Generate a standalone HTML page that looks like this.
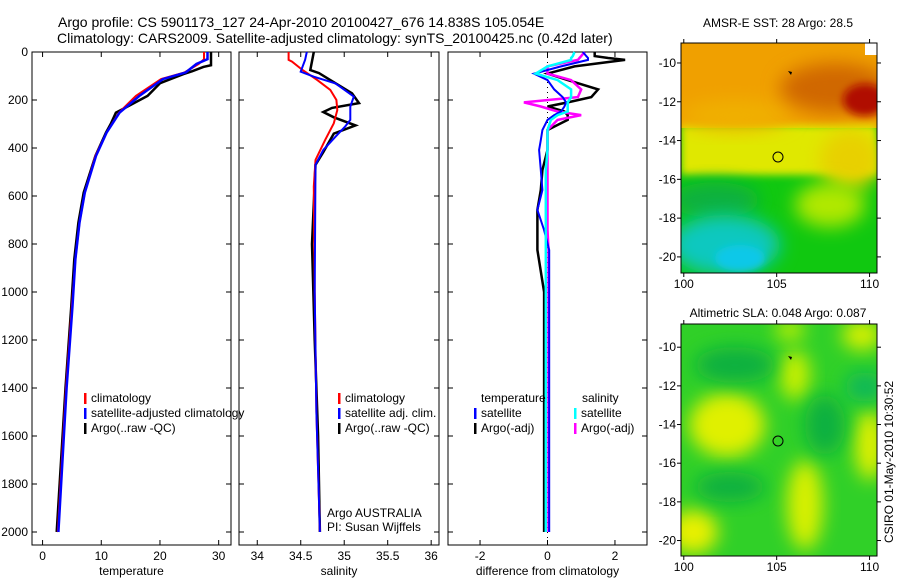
<!DOCTYPE html>
<html><head><meta charset="utf-8"><style>
html,body{margin:0;padding:0;background:#fff;}
svg{display:block;font-family:"Liberation Sans",sans-serif;}
</style></head><body>
<svg id="fig" width="900" height="580" viewBox="0 0 900 580" xmlns="http://www.w3.org/2000/svg">
<defs>
<filter id="blur8" x="-50%" y="-50%" width="200%" height="200%"><feGaussianBlur stdDeviation="9"/></filter>
<filter id="blur4" x="-50%" y="-50%" width="200%" height="200%"><feGaussianBlur stdDeviation="4"/></filter>
<clipPath id="clipSST"><rect x="681" y="43" width="196" height="230"/></clipPath>
<clipPath id="clipSLA"><rect x="681" y="324" width="196" height="232"/></clipPath>
</defs>
<text x="58" y="27" font-size="14">Argo profile: CS 5901173_127 24-Apr-2010 20100427_676 14.838S 105.054E</text>
<text x="57" y="43" font-size="14">Climatology: CARS2009. Satellite-adjusted climatology: synTS_20100425.nc (0.42d later)</text>
<g id="panels"></g>

<!-- SST map -->
<g clip-path="url(#clipSST)">
<rect x="681" y="43" width="196" height="230" fill="#10c810"/>
<rect x="681" y="43" width="196" height="85" fill="#f0a000"/>
<rect x="681" y="125" width="196" height="50" fill="#e0e800" filter="url(#blur4)"/>
<ellipse cx="735" cy="115" rx="55" ry="15" fill="#f0b000" filter="url(#blur8)"/>
<ellipse cx="850" cy="160" rx="30" ry="30" fill="#e8d000" filter="url(#blur8)"/>
<ellipse cx="830" cy="205" rx="35" ry="22" fill="#b0e800" filter="url(#blur8)"/>
<ellipse cx="835" cy="88" rx="55" ry="25" fill="#d06800" filter="url(#blur8)"/>
<ellipse cx="865" cy="100" rx="22" ry="16" fill="#b00800" filter="url(#blur4)"/>
<ellipse cx="715" cy="200" rx="45" ry="18" fill="#08b040" filter="url(#blur8)"/>
<ellipse cx="725" cy="245" rx="55" ry="30" fill="#10c8c0" filter="url(#blur8)"/>
<ellipse cx="740" cy="258" rx="25" ry="13" fill="#10c8e8" filter="url(#blur4)"/>
<rect x="865" y="43" width="12" height="12" fill="#fff"/>
</g>
<rect x="681" y="43" width="196" height="230" fill="none" stroke="#000"/>
<circle cx="778" cy="157" r="5" fill="none" stroke="#000"/>
<path d="M788,71 l4,1 l-1,3 z" fill="#000"/>
<text x="778" y="27" font-size="12" text-anchor="middle">AMSR-E SST: 28 Argo: 28.5</text>

<!-- SLA map -->
<g clip-path="url(#clipSLA)">
<rect x="681" y="324" width="196" height="232" fill="#30d028"/>
<ellipse cx="727" cy="425" rx="38" ry="32" fill="#e0f000" filter="url(#blur8)"/>
<ellipse cx="693" cy="532" rx="25" ry="22" fill="#e8f000" filter="url(#blur8)"/>
<ellipse cx="805" cy="505" rx="18" ry="45" fill="#d8f000" filter="url(#blur8)"/>
<ellipse cx="870" cy="445" rx="15" ry="35" fill="#e0f000" filter="url(#blur8)"/>
<ellipse cx="862" cy="335" rx="20" ry="15" fill="#d8f000" filter="url(#blur8)"/>
<ellipse cx="795" cy="375" rx="15" ry="25" fill="#c8f000" filter="url(#blur8)"/>
<ellipse cx="790" cy="330" rx="15" ry="10" fill="#c0f000" filter="url(#blur8)"/>
<ellipse cx="735" cy="365" rx="40" ry="18" fill="#10b040" filter="url(#blur8)"/>
<ellipse cx="825" cy="425" rx="20" ry="30" fill="#10b040" filter="url(#blur8)"/>
<ellipse cx="865" cy="387" rx="20" ry="15" fill="#10b858" filter="url(#blur8)"/>
<ellipse cx="730" cy="487" rx="35" ry="15" fill="#10b040" filter="url(#blur8)"/>
</g>
<rect x="681" y="324" width="196" height="232" fill="none" stroke="#000"/>
<circle cx="778" cy="441" r="5" fill="none" stroke="#000"/>
<path d="M788,356 l4,1 l-1,3 z" fill="#000"/>
<text x="778" y="317" font-size="12" text-anchor="middle">Altimetric SLA: 0.048 Argo: 0.087</text>
<g id="mapaxes"></g>
<text transform="translate(893,462) rotate(-90)" font-size="12" text-anchor="middle">CSIRO 01-May-2010 10:30:52</text>
</svg>
<script>
// ---- temperature panel data ----
const tDepthClim = [0,30,50,85,113,183,253,336,433,586,711,863,1058,1400,2000];
const tClim      = [27.5,27.5,26.6,24.2,20.2,15.9,13.0,10.9,9.0,7.2,6.3,5.6,5.0,4.0,2.6];
const tSat       = [28.1,28.1,26.2,24.4,20.5,16.5,13.1,10.9,9.1,7.2,6.3,5.6,5.1,4.1,2.7];
const tDepthArgo = [0,55,62,80,92,130,183,253,300,336,433,586,711,863,1058,1400,2000];
const tArgo      = [28.7,28.7,27.4,25.5,24.0,20.0,17.9,12.5,11.6,10.8,9.0,7.0,6.1,5.4,4.9,3.9,2.4];
// ---- salinity panel data ----
const sDepthClim = [0,33,40,75,117,158,200,242,297,367,450,561,1000,1500,2000];
const sClim      = [34.36,34.36,34.40,34.52,34.69,34.84,34.91,34.92,34.88,34.78,34.67,34.65,34.66,34.68,34.72];
const sDepthArgo = [0,75,88,117,172,213,233,250,272,306,340,417,470,800,1200,1600,2000];
const sArgo      = [34.65,34.61,34.71,34.84,35.09,35.17,34.86,34.76,34.88,35.13,34.88,34.76,34.67,34.63,34.66,34.70,34.72];
const sDepthSat  = [0,33,82,103,131,186,228,283,311,353,408,470,1000,1500,2000];
const sSat       = [34.57,34.55,34.50,34.65,34.90,35.11,35.07,35.07,35.01,34.90,34.76,34.67,34.66,34.68,34.72];
// ---- difference panel data ----
const dDepth   = [0,17,25,33,60,90,117,156,188,210,227,248,263,283,325,367,408,492,575,658,742,825,1000,1200,2000];
const dTArgo   = [1.4,1.4,1.8,2.3,0.8,0.0,0.6,1.5,1.3,0.6,0.0,0.5,0.6,0.6,0.0,0.0,0.0,-0.15,-0.2,-0.3,-0.3,-0.3,-0.1,-0.1,-0.1];
const dTSat    = [1.05,1.15,1.2,1.2,0.4,-0.4,0.0,0.2,0.45,0.55,0.5,0.4,0.2,0.0,-0.15,-0.2,-0.25,-0.2,-0.15,-0.3,-0.1,0.05,0.05,0.05,0.05];
const dSSat    = [0.8,0.75,0.7,0.7,0.0,-0.35,0.3,0.7,0.7,0.6,0.6,0.6,0.3,0.1,0.0,0.0,0.0,-0.05,-0.05,-0.05,-0.05,-0.05,-0.05,-0.05,-0.05];
const dSArgo   = [1.1,1.0,0.95,0.9,0.0,0.0,0.7,1.0,0.9,-0.7,-0.2,0.3,1.0,0.3,0.0,0.0,0.0,0.0,0.0,0.0,0.0,0.03,0.03,0.03,0.03];
// ---- ticks ----
const depthTicks = [0,200,400,600,800,1000,1200,1400,1600,1800,2000];
const tTicks = [0,10,20,30];
const sTicks = [34,34.5,35,35.5,36];
const sTickLabels = ["34","34.5","35","35.5","36"];
const dTicks = [-2,0,2];
const latTicks = [-10,-12,-14,-16,-18,-20];
const lonTicks = [100,105,110];

const NS='http://www.w3.org/2000/svg';
const TOP=52, BOT=545, D0=0, D1=(545-52)/0.24;
function yD(d){return TOP+(d-D0)*(BOT-TOP)/(D1-D0);}
function mk(tag,attrs,parent){const e=document.createElementNS(NS,tag);for(const k in attrs)e.setAttribute(k,attrs[k]);parent.appendChild(e);return e;}
const panels=document.getElementById('panels');

function panel(name,x0,x1,v0,v1,ticks,labels,xlabel,showY){
  const g=mk('g',{},panels);
  
  
  const xs=v=>x0+(v-v0)*(x1-x0)/(v1-v0);
  const fr=mk('rect',{x:x0,y:TOP,width:x1-x0,height:BOT-TOP,fill:'none',stroke:'#000','stroke-width':1},g);
  
  
  ticks.forEach((t,i)=>{
    const x=xs(t);
    mk('line',{x1:x,x2:x,y1:BOT,y2:BOT-5,stroke:'#000'},g);
    mk('line',{x1:x,x2:x,y1:TOP,y2:TOP+5,stroke:'#000'},g);
    const tx=mk('text',{x:x,y:BOT+15,'font-size':12,'text-anchor':'middle'},g);
    tx.textContent=labels[i];
    
    
  });
  depthTicks.forEach(d=>{
    const y=yD(d);
    mk('line',{x1:x0,x2:x0+5,y1:y,y2:y,stroke:'#000'},g);
    mk('line',{x1:x1,x2:x1-5,y1:y,y2:y,stroke:'#000'},g);
    if(showY){const tx=mk('text',{x:x0-4,y:y+4,'font-size':12,'text-anchor':'end'},g);tx.textContent=d;
      
      }
  });
  const xl=mk('text',{x:(x0+x1)/2,y:BOT+30,'font-size':12,'text-anchor':'middle'},g);
  xl.textContent=xlabel;
  
  
  return {g,xs};
}
function line(p,depths,vals,color,w,nm){
  const pts=depths.map((d,i)=>p.xs(vals[i]).toFixed(1)+','+yD(d).toFixed(1)).join(' ');
  const l=mk('polyline',{points:pts,fill:'none',stroke:color,'stroke-width':w},p.g);
  
  
}
function legend(p,x,y,color,text){
  mk('rect',{x:x,y:y-9,width:2.5,height:11,fill:color},p.g);
  const t=mk('text',{x:x+7,y:y,'font-size':12},p.g);
  t.textContent=text;
  
  
}
const p1=panel('temperature',32,231,-1.8,32.1,tTicks,tTicks.map(String),'temperature',true);
line(p1,tDepthArgo,tArgo,'#000',2.5,'argo-temperature-line');
line(p1,tDepthClim,tClim,'#f00',2,'climatology-temperature-line');
line(p1,tDepthClim,tSat,'#00f',2.5,'satellite-temperature-line');
legend(p1,84,402,'#f00','climatology');legend(p1,84,417,'#00f','satellite-adjusted climatology');legend(p1,84,432,'#000','Argo(..raw -QC)');

const p2=panel('salinity',239,439,33.79,36.09,sTicks,sTickLabels,'salinity',false);
line(p2,sDepthArgo,sArgo,'#000',2.5,'argo-salinity-line');
line(p2,sDepthClim,sClim,'#f00',2,'climatology-salinity-line');
line(p2,sDepthSat,sSat,'#00f',2,'satellite-salinity-line');
legend(p2,338,402,'#f00','climatology');legend(p2,338,417,'#00f','satellite adj. clim.');legend(p2,338,432,'#000','Argo(..raw -QC)');
const a1=mk('text',{x:327,y:517,'font-size':12},p2.g);a1.textContent='Argo AUSTRALIA';


const a2=mk('text',{x:327,y:531,'font-size':12},p2.g);a2.textContent='PI: Susan Wijffels';



const p3=panel('difference',448,647,-2.95,2.95,dTicks,dTicks.map(String),'difference from climatology',false);
const zx=p3.xs(0);
mk('line',{x1:zx,x2:zx,y1:TOP,y2:BOT,stroke:'#000','stroke-dasharray':'1,4'},p3.g);
line(p3,dDepth,dTArgo,'#000',2.5,'argo-temperature-difference-line');
line(p3,dDepth,dSArgo,'#f0f',2.5,'argo-salinity-difference-line');
line(p3,dDepth,dTSat,'#00f',2,'satellite-temperature-difference-line');
line(p3,dDepth,dSSat,'#0ff',2.5,'satellite-salinity-difference-line');
const th=mk('text',{x:481,y:402,'font-size':12},p3.g);th.textContent='temperature';


const sh=mk('text',{x:582,y:402,'font-size':12},p3.g);sh.textContent='salinity';


legend(p3,474,417,'#00f','satellite');legend(p3,474,432,'#000','Argo(-adj)');
legend(p3,574,417,'#0ff','satellite');legend(p3,574,432,'#f0f','Argo(-adj)');

// map axes
const ma=document.getElementById('mapaxes');
function mapAxes(top,bot,latTop,latBot,nm){
  const L=681,R=877,lon0=99.85,lon1=110.4;
  const xs=v=>L+(v-lon0)*(R-L)/(lon1-lon0);
  const ys=v=>top+(latTop-v)*(bot-top)/(latTop-latBot);
  lonTicks.forEach(t=>{const x=xs(t);
    mk('line',{x1:x,x2:x,y1:bot,y2:bot+4,stroke:'#000'},ma);
    mk('line',{x1:x,x2:x,y1:top,y2:top-4,stroke:'#000'},ma);
    const tx=mk('text',{x:x,y:bot+15,'font-size':12,'text-anchor':'middle'},ma);tx.textContent=t;
    
    });
  latTicks.forEach(t=>{const y=ys(t);
    mk('line',{x1:L,x2:L-4,y1:y,y2:y,stroke:'#000'},ma);
    mk('line',{x1:R,x2:R+4,y1:y,y2:y,stroke:'#000'},ma);
    const tx=mk('text',{x:L-5,y:y+4,'font-size':12,'text-anchor':'end'},ma);tx.textContent=t;
    
    });
}
mapAxes(43,273,-8.97,-20.83,'sst-map');
mapAxes(324,556,-8.8,-20.8,'sla-map');
</script>
</body></html>
